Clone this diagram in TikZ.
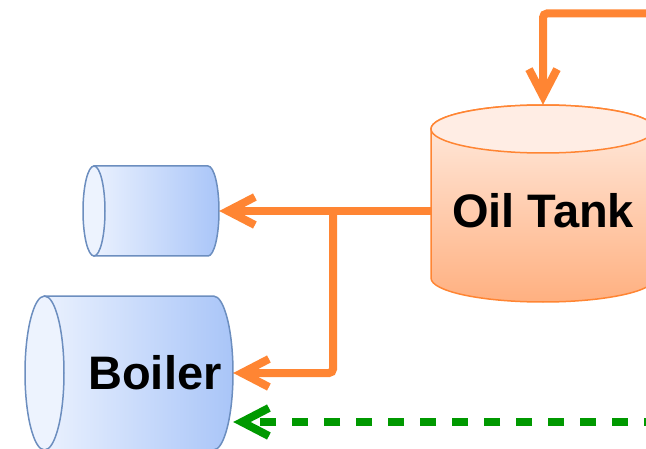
\documentclass[tikz,border=0pt]{standalone}
\usepackage{fontspec}
\setmainfont{Liberation Sans}
\usetikzlibrary{arrows.meta}
\definecolor{orl}{HTML}{FF8533}
\definecolor{grn}{HTML}{009900}
\definecolor{tanktop}{HTML}{FFEDE3}
\definecolor{tankbot}{HTML}{FFB080}
\definecolor{tankface}{HTML}{FFEDE4}
\definecolor{blA}{HTML}{EAF1FE}
\definecolor{blB}{HTML}{A9C5F8}
\definecolor{blface}{HTML}{EDF3FE}
\definecolor{blS}{HTML}{6C8EBF}
\begin{document}
\begin{tikzpicture}[x=1pt,y=1pt,
  lbl/.style={font=\bfseries\fontsize{47}{50}\selectfont, inner sep=0pt},
  box/.style={inner sep=0pt},
  flow/.style={draw=orl, line width=8pt, -{Straight Barb[length=27pt,width=28pt]}},
  ret/.style={draw=grn, line width=8pt, dash pattern=on 16pt off 16pt, -{Straight Barb[length=27pt,width=28pt]}},
  tankline/.style={draw=orl, line width=1.5pt},
  blueline/.style={draw=blS, line width=1.5pt}]
\useasboundingbox (0,0) rectangle (646,448);
\clip (0,0) rectangle (646,448);
% Oil tank
\path[tankline, top color=tanktop, bottom color=tankbot]
  (431,319) -- (431,170) arc[start angle=180,end angle=360,x radius=112,y radius=24]
  -- (655,319) arc[start angle=0,end angle=180,x radius=112,y radius=24] -- cycle;
\draw[tankline, fill=tankface] (543,319) ellipse[x radius=112,y radius=24];
\node[box, minimum width=224pt, minimum height=197pt] (tank) at (543,244.5) {};
\node[lbl, minimum width=224pt] (tanklbl) at (543,237) {Oil Tank};
% small store cylinder
\path[blueline, left color=blA, right color=blB]
  (94,282) -- (208,282) arc[start angle=90,end angle=-90,x radius=11,y radius=45]
  -- (94,192) -- cycle;
\draw[blueline, fill=blface] (94,237) ellipse[x radius=11,y radius=45];
\node[box, minimum width=136pt, minimum height=90pt] (store) at (151,237) {};
% Boiler
\path[blueline, left color=blA, right color=blB]
  (44.5,152) -- (213.5,152) arc[start angle=90,end angle=-90,x radius=19.5,y radius=77]
  -- (44.5,-2) -- cycle;
\draw[blueline, fill=blface] (44.5,75) ellipse[x radius=19.5,y radius=77];
\node[lbl, text width=185pt, align=right, inner xsep=11.5pt, minimum height=154pt] (boiler) at (129,75) {Boiler};
% connectors
\coordinate (tsrc) at (660,434.5);
\coordinate (gsrc) at (660,26);
\coordinate (j) at (333,237);
\draw[flow, rounded corners=4pt] (tsrc) -| (tank.north);
\draw[flow] (tanklbl.west) -- (store.east);
\draw[flow, rounded corners=4pt] (j) |- (boiler.east);
\draw[ret] (gsrc) -- (boiler.east |- gsrc);
\end{tikzpicture}
\end{document}
